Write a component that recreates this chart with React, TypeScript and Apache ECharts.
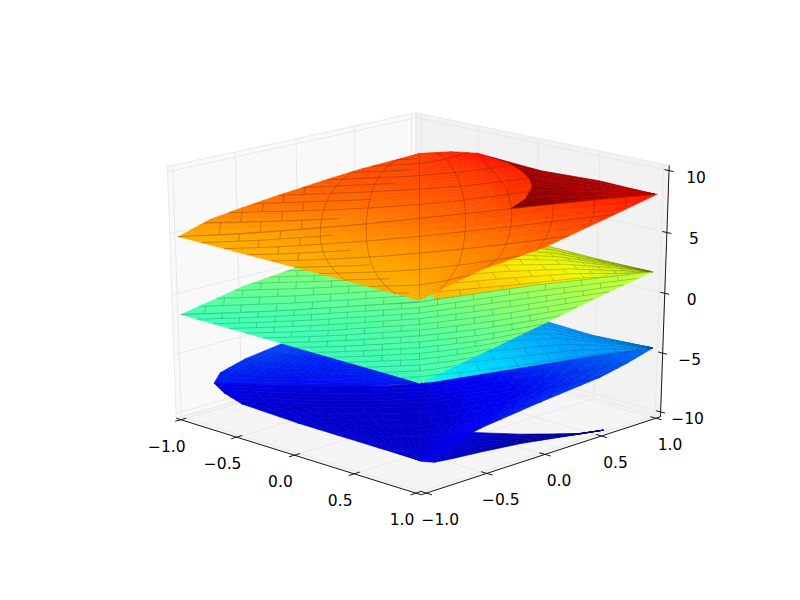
import React, { useEffect, useRef } from "react";
import * as echarts from "echarts";

// Tick values and labels
const xTicks = [-1, -0.5, 0, 0.5, 1];
const xTickLabels = ["\u22121.0", "\u22120.5", "0.0", "0.5", "1.0"];
const yTicks = [-1, -0.5, 0, 0.5, 1];
const yTickLabels = ["\u22121.0", "\u22120.5", "0.0", "0.5", "1.0"];
const zTicks = [-10, -5, 0, 5, 10];
const zTickLabels = ["\u221210", "\u22125", "0", "5", "10"];

// Surfaces: "along" = (x+y)/2, "across" = (x-y)/2, heights z.
const redFrontAcross = [1, 0.75, 0.5, 0.25, 0];
const redFrontLeft = [0, -0.25, -0.5, -0.75, -1];
const redFrontRight = [0, 0.25, 0.5, 0.75, 0.98];
const redFrontZ = [
  [5.15, 5.15, 5.15, 5.15, 5.15, 5.15, 5.15, 5.15, 5.15],
  [5.15, 5.2, 5.22, 5.25, 5.3, 5.5, 5.7, 6.0, 6.25],
  [5.15, 5.2, 5.28, 5.4, 5.6, 5.8, 6.05, 6.35, 6.7],
  [5.15, 5.25, 5.45, 5.7, 6.0, 6.4, 6.8, 7.25, 7.7],
  [5.15, 5.35, 5.7, 6.1, 6.6, 7.1, 7.6, 8.1, 8.55],
];
const redBackAcross = [0, -0.125, -0.25, -0.375, -0.5, -0.625, -0.75, -0.875, -1];
const redBackLeft = [-1, -0.875, -0.75, -0.625, -0.5, -0.375, -0.25, -0.125, 0];
const redBackRight = [0.36, 0.44, 0.47, 0.465, 0.44, 0.38, 0.25, 0.14, 0];
const redBackZ = [
  [5.15, 5.3, 5.5, 5.75, 6.0, 6.3, 6.65, 6.95, 7.25],
  [5.95, 6.0, 6.05, 6.15, 6.35, 6.6, 6.9, 7.25, 7.65],
  [6.3, 6.4, 6.5, 6.6, 6.75, 6.95, 7.2, 7.6, 8.0],
  [6.6, 6.7, 6.8, 6.9, 7.05, 7.2, 7.4, 7.7, 8.05],
  [6.85, 6.95, 7.05, 7.15, 7.3, 7.45, 7.6, 7.85, 8.1],
  [7.1, 7.15, 7.25, 7.3, 7.4, 7.6, 7.75, 8.0, 8.3],
  [7.3, 7.35, 7.4, 7.45, 7.55, 7.7, 7.9, 8.2, 8.6],
  [7.4, 7.42, 7.45, 7.5, 7.55, 7.65, 7.8, 8.0, 8.2],
  [7.5, 7.5, 7.5, 7.5, 7.5, 7.5, 7.5, 7.5, 7.5],
];
const redFoldAlong = [
  [0.34, 0.5, 0.75, 0.97],
  [0.3, 0.5, 0.75, 0.97],
  [0.25, 0.515, 0.75, 0.97],
];
const redFoldAcross = [
  [0.02, 0.02, 0.01, 0],
  [-0.36, -0.19, -0.1, 0],
  [-0.75, -0.39, -0.22, 0],
];
const redFoldZ = [
  [7.2, 7.55, 8.05, 8.55],
  [8.0, 8.2, 8.4, 8.55],
  [8.6, 8.7, 8.65, 8.55],
];
const redFoldShade = [
  [0.47, 0.6, 0.9, 1.4],
  [0.7, 0.85, 1.0, 1.4],
  [1.05, 1.05, 1.1, 1.4],
];

const greenFrontAcross = [1, 0.75, 0.5, 0.25, 0];
const greenFrontLeft = [0, -0.25, -0.5, -0.75, -1];
const greenFrontRight = [0, 0.25, 0.5, 0.75, 0.97];
const greenFrontZ = [
  [-1.2, -1.2, -1.2, -1.2, -1.2, -1.2, -1.2, -1.2, -1.2],
  [-1.2, -1.15, -1.1, -1.05, -1.0, -0.85, -0.7, -0.5, -0.27],
  [-1.2, -1.15, -1.05, -0.9, -0.75, -0.5, -0.2, 0.2, 0.68],
  [-1.2, -1.1, -0.95, -0.7, -0.45, 0.0, 0.5, 1.1, 1.68],
  [-1.2, -1.05, -0.8, -0.5, -0.2, 0.5, 1.2, 1.75, 2.3],
];
const greenBackAcross = [0, -0.25, -0.5, -0.75, -1];
const greenBackLeft = [-1, -0.75, -0.5, -0.25, 0];
const greenBackRight = [0.06, 0.05, 0.04, 0.02, 0];
const greenBackZ = [
  [-1.2, -1.1, -1, -0.9, -0.75, -0.6, -0.4, -0.25, -0.05],
  [-0.15, -0.1, -0.05, 0, 0.1, 0.2, 0.3, 0.4, 0.5],
  [0.4, 0.45, 0.5, 0.55, 0.6, 0.65, 0.7, 0.8, 0.9],
  [0.9, 0.95, 1, 1.05, 1.1, 1.15, 1.2, 1.25, 1.3],
  [1.15, 1.15, 1.15, 1.15, 1.15, 1.15, 1.15, 1.15, 1.15],
];
const yellowAlong = [
  [0.03, 0.38, 0.65, 0.85, 0.97],
  [0.03, 0.3, 0.6, 0.8, 0.97],
  [0.02, 0.25, 0.55, 0.76, 0.97],
];
const yellowAcross = [
  [0.93, 0.72, 0.38, 0.2, 0],
  [0.25, 0.1, 0.0, -0.02, 0],
  [-0.4, -0.45, -0.28, -0.14, 0],
];
const yellowZ = [
  [4.8, 4.3, 3.3, 2.7, 2.3],
  [3.8, 3.6, 3.1, 2.65, 2.3],
  [3.2, 3.0, 3.0, 2.6, 2.3],
];
const yellowShade = [
  [1, 1, 1, 0.95, 0.85],
  [1, 1, 0.98, 0.92, 0.85],
  [0.9, 0.9, 0.88, 0.82, 0.85],
];

const blueFrontAcross = [1, 0.75, 0.5, 0.25, 0.12, 0];
const blueFrontLeft = [0, -0.25, -0.5, -0.74, -0.82, -0.87];
const blueFrontRight = [0, 0.25, 0.5, 0.75, 0.87, 0.98];
const blueFrontZ = [
  [-7.3, -7.3, -7.3, -7.3, -7.3, -7.3, -7.3, -7.3, -7.3],
  [-7.3, -7.35, -7.4, -7.4, -7.4, -7.2, -6.9, -6.55, -6.2],
  [-7.3, -7.4, -7.5, -7.5, -7.5, -7.2, -6.7, -6.1, -5.55],
  [-7.2, -7.4, -7.5, -7.5, -7.4, -7.0, -6.5, -5.8, -5.0],
  [-7.05, -7.25, -7.4, -7.4, -7.2, -6.7, -6.1, -5.3, -4.55],
  [-6.9, -7.1, -7.2, -7.15, -6.85, -6.1, -5.35, -4.6, -4.0],
];
const blueBackAcross = [0, -0.12, -0.25, -0.5, -0.75, -1];
const blueBackLeft = [-0.87, -0.85, -0.75, -0.5, -0.25, 0];
const blueBackRight = [0.01, 0.01, 0.01, 0.01, 0.01, 0];
const blueBackZ = [
  [-6.9, -7.0, -7.1, -7.15, -7.2, -7.2, -7.15, -7.0, -6.9],
  [-6.7, -6.9, -7, -7.05, -7, -6.9, -6.8, -6.7, -6.6],
  [-6.25, -6.5, -6.7, -6.8, -6.8, -6.75, -6.7, -6.6, -6.5],
  [-5.5, -5.7, -5.9, -6, -6.1, -6.1, -6.1, -6.1, -6.1],
  [-5, -5.1, -5.2, -5.3, -5.4, -5.5, -5.5, -5.5, -5.5],
  [-4.8, -4.8, -4.8, -4.8, -4.8, -4.8, -4.8, -4.8, -4.8],
];
const cyanAlong = [
  [0.02, 0.38, 0.66, 0.82, 0.99],
  [0.02, 0.3, 0.6, 0.78, 0.99],
  [0.02, 0.25, 0.55, 0.74, 0.99],
];
const cyanAcross = [
  [0.85, 0.55, 0.2, 0.05, -0.1],
  [0.2, 0.0, -0.2, -0.16, -0.1],
  [-0.36, -0.5, -0.48, -0.3, -0.1],
];
const cyanZ = [
  [-2.3, -3.2, -4.2, -4.3, -4.5],
  [-3.0, -3.5, -4.2, -4.4, -4.5],
  [-3.5, -3.8, -4.3, -4.5, -4.5],
];
const navyAlong = [
  [0.0, 0.02, 0.12, 0.17, 0.42, 0.66, 0.77],
  [0.0, 0.06, 0.15, 0.24, 0.42, 0.66, 0.77],
];
const navyAcross = [
  [0.9, 0.7, 0.6, 0.475, 0.32, 0.28, 0.23],
  [1, 0.83, 0.72, 0.62, 0.43, 0.29, 0.23],
];
const navyZ = [
  [-7.4, -7.6, -8.0, -8.2, -9.3, -9.5, -9.5],
  [-7.35, -8.5, -8.8, -9, -9.4, -9.5, -9.5],
];

type Table = number[][];
type Sheet = { a: Table; b: Table; z: Table; s?: Table; tone?: number; bias?: number };
type Mesh = {
  rows: number;
  color: string;
  width?: number;
  meridians?: number[];
  brick?: number;
  ranges?: number[][];
  halves?: number[][];
};
type Prim =
  | { k: "poly"; pts: number[][]; fill: string; stroke: string; w: number }
  | { k: "line"; pts: number[][]; stroke: string; w: number }
  | { k: "text"; pts: number[][]; text: string };

// camera
const EL = (20 * Math.PI) / 180;
const DIST = 10;
function makeCamera(azDeg: number, cx: number, cy: number, kx: number, ky: number) {
  const az = (azDeg * Math.PI) / 180;
  const right = [-Math.sin(az), Math.cos(az), 0];
  const eye = [Math.cos(EL) * Math.cos(az), Math.cos(EL) * Math.sin(az), Math.sin(EL)];
  const up = [-Math.sin(EL) * Math.cos(az), -Math.sin(EL) * Math.sin(az), Math.cos(EL)];
  const dot = (p: number[], q: number[]) => p[0] * q[0] + p[1] * q[1] + p[2] * q[2];
  return {
    depth: (x: number, y: number, z: number) => dot([x / 2, y / 2, z / 20], eye),
    project: (x: number, y: number, z: number) => {
      const r = [x / 2, y / 2, z / 20];
      const w = DIST - dot(r, eye);
      return [cx + (kx * dot(r, right)) / w, cy - (ky * dot(r, up)) / w];
    },
  };
}
const surfaceCamera = makeCamera(-45, 419.5, 300, 3380, 2595);
const boxCamera = makeCamera(-45.6, 418.5, 294, 3346, 2569);
const project = surfaceCamera.project;
const depth = surfaceCamera.depth;

function jet(t: number) {
  const v = Math.max(0, Math.min(1, t));
  const seg = (pts: number[][]) => {
    for (let i = 1; i < pts.length; i++) {
      if (v <= pts[i][0]) {
        const f = (v - pts[i - 1][0]) / (pts[i][0] - pts[i - 1][0]);
        return pts[i - 1][1] + f * (pts[i][1] - pts[i - 1][1]);
      }
    }
    return pts[pts.length - 1][1];
  };
  return [
    seg([[0, 0], [0.35, 0], [0.66, 1], [0.89, 1], [1, 0.5]]),
    seg([[0, 0], [0.125, 0], [0.375, 1], [0.64, 1], [0.91, 0], [1, 0]]),
    seg([[0, 0.5], [0.11, 1], [0.34, 1], [0.65, 0], [1, 0]]),
  ];
}
const COLOR_MIN = -10;
const COLOR_MAX = 10.5;
function colorOf(z: number, shade: number) {
  const c = jet((z - COLOR_MIN) / (COLOR_MAX - COLOR_MIN));
  const ch = (v: number) => Math.min(255, Math.round(v * 255 * shade));
  return `rgb(${ch(c[0])},${ch(c[1])},${ch(c[2])})`;
}

function gridSheet(across: number[], left: number[], rgt: number[], z: Table, tone?: number, bias?: number): Sheet {
  const n = z[0].length - 1;
  return {
    a: across.map((_, r) => z[r].map((__, c) => left[r] + ((rgt[r] - left[r]) * c) / n)),
    b: across.map((v, r) => z[r].map(() => v)),
    z,
    tone,
    bias,
  };
}
function bil(t: Table, rf: number, cf: number) {
  const R = t.length - 1;
  const C = t[0].length - 1;
  const r = Math.min(Math.floor(rf), R - 1);
  const c = Math.min(Math.floor(cf), C - 1);
  const fr = rf - r;
  const fc = cf - c;
  return (
    t[r][c] * (1 - fr) * (1 - fc) +
    t[r][c + 1] * (1 - fr) * fc +
    t[r + 1][c] * fr * (1 - fc) +
    t[r + 1][c + 1] * fr * fc
  );
}
function sheetPoint(s: Sheet, rf: number, cf: number) {
  const a = bil(s.a, rf, cf);
  const b = bil(s.b, rf, cf);
  const z = bil(s.z, rf, cf);
  return { x: a + b, y: a - b, z, a, b };
}
function sheetXY(s: Sheet, rf: number, cf: number) {
  const p = sheetPoint(s, rf, cf);
  return project(p.x, p.y, p.z);
}

function addSheet(out: Prim[], s: Sheet, sub: number, mesh: Mesh) {
  const R = s.z.length - 1;
  const C = s.z[0].length - 1;
  const cells: { d: number; p: Prim }[] = [];
  for (let r = 0; r < R * sub; r++) {
    for (let c = 0; c < C * sub; c++) {
      const r0 = r / sub;
      const r1 = (r + 1) / sub;
      const c0 = c / sub;
      const c1 = (c + 1) / sub;
      const mid = sheetPoint(s, (r0 + r1) / 2, (c0 + c1) / 2);
      const shade = (s.s ? bil(s.s, (r0 + r1) / 2, (c0 + c1) / 2) : 1) * (s.tone ?? 1);
      const col = colorOf(mid.z + (s.bias ?? 0), shade);
      cells.push({
        d: depth(mid.x, mid.y, mid.z),
        p: {
          k: "poly",
          pts: [sheetXY(s, r0, c0), sheetXY(s, r0, c1), sheetXY(s, r1, c1), sheetXY(s, r1, c0)],
          fill: col,
          stroke: col,
          w: 0.6,
        },
      });
    }
  }
  cells.sort((p, q) => p.d - q.d);
  cells.forEach((c) => out.push(c.p));

  const w = mesh.width ?? 0.6;
  for (let k = 0; k <= mesh.rows; k++) {
    const rf = (k * R) / mesh.rows;
    const pts: number[][] = [];
    for (let j = 0; j <= 24; j++) pts.push(sheetXY(s, rf, (j * C) / 24));
    out.push({ k: "line", pts, stroke: mesh.color, w });
  }
  if (mesh.halves) {
    for (let k = 0; k < mesh.rows; k++) {
      const rf = ((k + 0.5) * R) / mesh.rows;
      mesh.halves.forEach((g) => {
        const pts: number[][] = [];
        for (let j = 0; j <= 6; j++) pts.push(sheetXY(s, rf, g[0] + ((g[1] - g[0]) * j) / 6));
        out.push({ k: "line", pts, stroke: mesh.color, w });
      });
    }
  }
  (mesh.meridians || []).forEach((alpha) => {
    let pts: number[][] = [];
    for (let j = 0; j <= 32; j++) {
      const rf = (j * R) / 32;
      const lo = bil(s.a, rf, 0);
      const hi = bil(s.a, rf, C);
      const b = bil(s.b, rf, 0);
      const a = alpha * Math.sqrt(Math.max(0, 1 - b * b));
      if (a >= lo && a <= hi && hi > lo) {
        pts.push(sheetXY(s, rf, ((a - lo) / (hi - lo)) * C));
      } else {
        if (pts.length > 1) out.push({ k: "line", pts, stroke: mesh.color, w });
        pts = [];
      }
    }
    if (pts.length > 1) out.push({ k: "line", pts, stroke: mesh.color, w });
  });
  if (mesh.brick) {
    const sp = mesh.halves ? mesh.rows * 2 : mesh.rows;
    const lo = mesh.ranges ? mesh.ranges[0][0] : -1.2;
    const hi = mesh.ranges ? mesh.ranges[0][1] : 1.2;
    for (let k = 0; k < sp; k++) {
      const r0 = (k * R) / sp;
      const r1 = ((k + 1) * R) / sp;
      for (let a = lo + (k % 2 ? mesh.brick / 2 : 0); a < hi; a += mesh.brick) {
        const l0 = bil(s.a, r0, 0);
        const h0 = bil(s.a, r0, C);
        const l1 = bil(s.a, r1, 0);
        const h1 = bil(s.a, r1, C);
        if (h0 - l0 < 0.01 || h1 - l1 < 0.01) continue;
        if (a <= l0 || a >= h0 || a <= l1 || a >= h1) continue;
        out.push({
          k: "line",
          pts: [sheetXY(s, r0, ((a - l0) / (h0 - l0)) * C), sheetXY(s, r1, ((a - l1) / (h1 - l1)) * C)],
          stroke: mesh.color,
          w,
        });
      }
    }
  }
}

function buildPrims(): { back: Prim[]; surf: Prim[]; front: Prim[] } {
  const back: Prim[] = [];
  const surf: Prim[] = [];
  const front: Prim[] = [];
  const XL = -1 - 2 / 48;
  const XH = 1 + 2 / 48;
  const YL = XL;
  const YH = XH;
  const ZL = -10 - 20 / 48;
  const ZH = 10 + 20 / 48;
  const P = boxCamera.project;
  const PANE = "#e9e9e9";
  back.push({ k: "poly", pts: [P(XL, YL, ZL), P(XL, YH, ZL), P(XL, YH, ZH), P(XL, YL, ZH)], fill: "#f9f9f9", stroke: PANE, w: 1 });
  back.push({ k: "poly", pts: [P(XL, YH, ZL), P(XH, YH, ZL), P(XH, YH, ZH), P(XL, YH, ZH)], fill: "#f2f2f2", stroke: PANE, w: 1 });
  back.push({ k: "poly", pts: [P(XL, YL, ZL), P(XH, YL, ZL), P(XH, YH, ZL), P(XL, YH, ZL)], fill: "#f5f5f5", stroke: PANE, w: 1 });
  const GRID = "#e6e6e6";
  xTicks.forEach((x) => back.push({ k: "line", pts: [P(x, YL, ZL), P(x, YH, ZL), P(x, YH, ZH)], stroke: GRID, w: 0.9 }));
  yTicks.forEach((y) => back.push({ k: "line", pts: [P(XH, y, ZL), P(XL, y, ZL), P(XL, y, ZH)], stroke: GRID, w: 0.9 }));
  zTicks.forEach((z) => back.push({ k: "line", pts: [P(XL, YL, z), P(XL, YH, z), P(XH, YH, z)], stroke: GRID, w: 0.9 }));

  // blue layer
  addSheet(surf, { a: cyanAlong, b: cyanAcross, z: cyanZ }, 8, {
    rows: 8, color: "rgba(0,40,70,0.4)", brick: 0.12, width: 0.5,
  });
  addSheet(surf, { a: navyAlong, b: navyAcross, z: navyZ }, 6, { rows: 1, color: "rgba(0,0,90,0.25)" });
  addSheet(surf, gridSheet(blueBackAcross, blueBackLeft, blueBackRight, blueBackZ, 0.95), 3, {
    rows: 5, color: "rgba(0,0,90,0.18)", meridians: [-0.6, -0.42, -0.25],
  });
  addSheet(surf, gridSheet(blueFrontAcross, blueFrontLeft, blueFrontRight, blueFrontZ, 0.95, -1), 3, {
    rows: 5, color: "rgba(0,0,90,0.22)", meridians: [-0.6, -0.42, -0.25, -0.05, 0.14, 0.33, 0.52],
  });

  // green layer
  addSheet(surf, { a: yellowAlong, b: yellowAcross, z: yellowZ, s: yellowShade }, 8, {
    rows: 9, color: "rgba(60,60,0,0.5)", brick: 0.12, width: 0.5,
  });
  addSheet(surf, gridSheet(greenBackAcross, greenBackLeft, greenBackRight, greenBackZ), 3, {
    rows: 14, color: "rgba(0,70,60,0.5)", brick: 0.15, width: 0.5,
  });
  addSheet(surf, gridSheet(greenFrontAcross, greenFrontLeft, greenFrontRight, greenFrontZ), 3, {
    rows: 14, color: "rgba(0,70,50,0.5)", brick: 0.15, width: 0.5,
  });

  // red layer
  addSheet(surf, { a: redFoldAlong, b: redFoldAcross, z: redFoldZ, s: redFoldShade, bias: 1.3 }, 8, {
    rows: 6, color: "rgba(40,0,0,0.25)",
  });
  addSheet(surf, gridSheet(redBackAcross, redBackLeft, redBackRight, redBackZ, 1, -0.3), 3, {
    rows: 5, color: "rgba(70,20,0,0.55)", meridians: [-0.41, -0.22, 0, 0.19, 0.38], brick: 0.17,
    ranges: [[-1, -0.41]], halves: [[0, 3.4]], width: 0.5,
  });
  addSheet(surf, gridSheet(redFrontAcross, redFrontLeft, redFrontRight, redFrontZ, 1, -0.3), 3, {
    rows: 5, color: "rgba(70,20,0,0.55)", meridians: [-0.41, -0.22, 0, 0.19, 0.38, 0.55, 0.72, 0.85], brick: 0.17,
    ranges: [[-1, -0.41]], halves: [[0, 2.4]], width: 0.5,
  });

  // axes
  const AX = "#1a1a1a";
  front.push({ k: "line", pts: [P(XL, YL, ZL), P(XH, YL, ZL)], stroke: AX, w: 1 });
  front.push({ k: "line", pts: [P(XH, YL, ZL), P(XH, YH, ZL)], stroke: AX, w: 1 });
  front.push({ k: "line", pts: [P(XH, YH, ZL), P(XH, YH, ZH)], stroke: AX, w: 1 });
  xTicks.forEach((x, i) => {
    front.push({ k: "line", pts: [P(x, YL - 0.045, ZL), P(x, YL + 0.045, ZL)], stroke: AX, w: 1 });
    const q = P(x, YL, ZL);
    front.push({ k: "text", pts: [[q[0] - 14, q[1] + 27]], text: xTickLabels[i] });
  });
  yTicks.forEach((y, i) => {
    front.push({ k: "line", pts: [P(XH - 0.045, y, ZL), P(XH + 0.045, y, ZL)], stroke: AX, w: 1 });
    const q = P(XH, y, ZL);
    front.push({ k: "text", pts: [[q[0] + 14, q[1] + 27]], text: yTickLabels[i] });
  });
  zTicks.forEach((z, i) => {
    front.push({ k: "line", pts: [P(XH - 0.035, YH, z), P(XH + 0.035, YH, z)], stroke: AX, w: 1 });
    const q = P(XH, YH, z);
    front.push({ k: "text", pts: [[q[0] + 27, q[1] + 7]], text: zTickLabels[i] });
  });
  return { back, surf, front };
}

export default function App() {
  const ref = useRef<HTMLDivElement>(null);
  useEffect(() => {
    document.body.style.margin = "0";
    const chart = echarts.init(ref.current!, undefined, { renderer: "svg" });
    const { back, surf, front } = buildPrims();
    const series = (prims: Prim[], z: number) => ({
      type: "custom",
      coordinateSystem: "cartesian2d",
      silent: true,
      clip: false,
      z,
      data: prims.map((p) => p.pts[0]),
      renderItem: (params: any, api: any) => {
        const p = prims[params.dataIndex];
        const pts = p.pts.map((q) => api.coord(q));
        if (p.k === "poly") {
          return { type: "polygon", shape: { points: pts }, style: { fill: p.fill, stroke: p.stroke, lineWidth: p.w }, silent: true };
        }
        if (p.k === "line") {
          return { type: "polyline", shape: { points: pts }, style: { fill: "none", stroke: p.stroke, lineWidth: p.w }, silent: true };
        }
        return {
          type: "text",
          silent: true,
          style: { text: p.text, x: pts[0][0], y: pts[0][1], font: '15.5px "DejaVu Sans"', fill: "#000", align: "center", verticalAlign: "middle" },
        };
      },
    });
    chart.setOption({
      animation: false,
      backgroundColor: "#fff",
      grid: { left: 0, right: 0, top: 0, bottom: 0 },
      xAxis: { type: "value", min: 0, max: 800, show: false },
      yAxis: { type: "value", min: 0, max: 600, inverse: true, show: false },
      series: [series(back, 1), series(surf, 2), series(front, 3)],
    });
    return () => chart.dispose();
  }, []);
  return <div ref={ref} style={{ width: 800, height: 600 }} />;
}
